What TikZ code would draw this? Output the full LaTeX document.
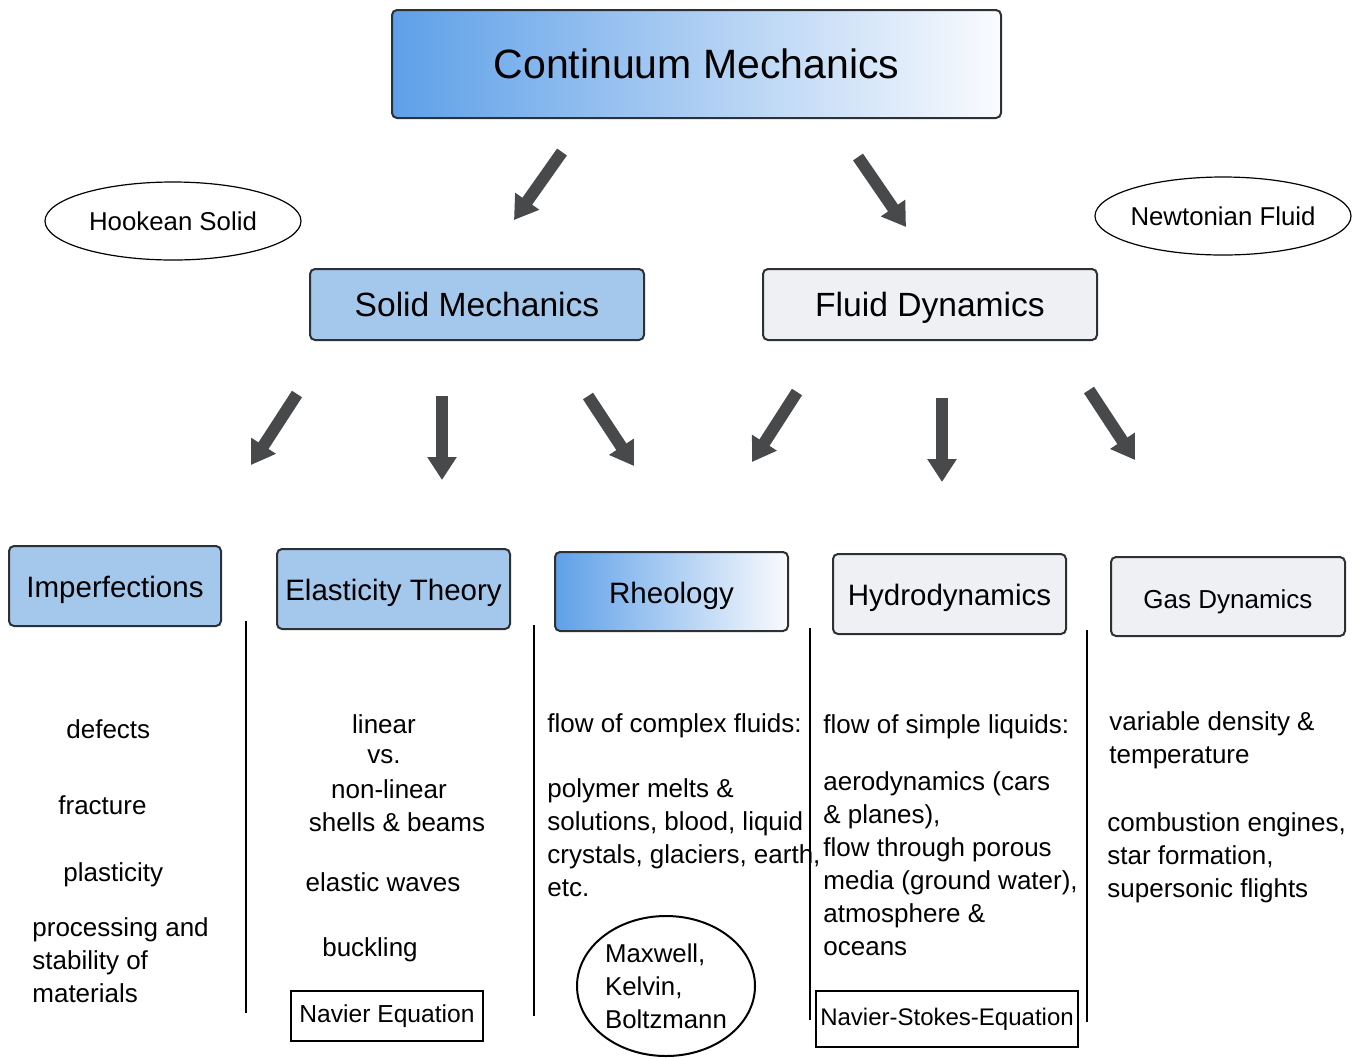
\documentclass[tikz,border=0pt]{standalone}
\usepackage{fontspec}
\setmainfont{Liberation Sans}
\usetikzlibrary{shapes.geometric, arrows.meta}

\definecolor{boxblue}{RGB}{164,199,236}
\definecolor{boxgray}{RGB}{238,240,244}
\definecolor{gradblue}{RGB}{94,160,232}
\definecolor{gradwhite}{RGB}{250,251,254}
\definecolor{arrowgray}{RGB}{72,73,75}
\definecolor{edgegray}{RGB}{45,48,52}

\tikzset{
  topic/.style={draw=edgegray, line width=1pt, rounded corners=2.5pt, inner sep=0pt,
    font=\fontsize{14.75}{17}\selectfont},
  lowtext/.style={text height=11.7pt, text depth=0pt},
  bigarrow/.style={-{Triangle[width=14pt,length=11.5pt]}, line width=6pt, arrowgray},
  bodytext/.style={inner sep=0pt, anchor=west, align=left, font=\fontsize{13}{16.5}\selectfont},
  oval/.style={draw, ellipse, inner sep=0pt, font=\fontsize{12.9}{16.5}\selectfont},
  eqbox/.style={draw, line width=0.6pt, inner sep=0pt, font=\fontsize{12.3}{15}\selectfont},
  divider/.style={line width=0.8pt}
}

\begin{document}
\begin{tikzpicture}[x=0.5pt, y=-0.5pt]
  \useasboundingbox (0,0) rectangle (1361,1057);

  % Top level
  \node[topic, left color=gradblue, right color=gradwhite, minimum width=304.5pt, minimum height=54pt,
    font=\fontsize{20.5}{24}\selectfont] (cm) at (696.5,64) {Continuum Mechanics};

  % Second level
  \node[topic, fill=boxblue, minimum width=167pt, minimum height=35.5pt,
    font=\fontsize{16.8}{20}\selectfont] (solid) at (477,304.5) {Solid Mechanics};
  \node[topic, lowtext, fill=boxgray, minimum width=167pt, minimum height=35.5pt,
    font=\fontsize{16.8}{20}\selectfont] (fluid) at (930,304.5) {Fluid Dynamics};

  % Idealised materials
  \node[oval, line width=0.6pt, minimum width=128pt, minimum height=39pt] (hooke) at (173,221) {Hookean Solid};
  \node[oval, line width=0.6pt, inner xsep=-3pt, minimum width=128pt, minimum height=39pt] (newton) at (1223,216) {Newtonian Fluid};

  % Branches
  \node[topic, lowtext, fill=boxblue, minimum width=106pt, minimum height=40pt] (imperf) at (115,586) {Imperfections};
  \node[topic, lowtext, fill=boxblue, minimum width=116.5pt, minimum height=40pt] (elast) at (393.5,589) {Elasticity Theory};
  \node[topic, lowtext, left color=gradblue, right color=gradwhite, minimum width=116.5pt, minimum height=39.5pt] (rheo) at (671.5,591.5) {Rheology};
  \node[topic, lowtext, fill=boxgray, minimum width=116.5pt, minimum height=40pt] (hydro) at (949.5,594) {Hydrodynamics};
  \node[topic, lowtext, fill=boxgray, minimum width=117pt, minimum height=39.5pt,
    font=\fontsize{13}{16}\selectfont] (gas) at (1228,596.5) {Gas Dynamics};

  % Arrow ends
  \coordinate (a1s) at (562,152);  \coordinate (a1e) at (514,220);
  \coordinate (a2s) at (858,157);  \coordinate (a2e) at (906,227);
  \coordinate (b1s) at (297,394);  \coordinate (b1e) at (251,465);
  \coordinate (b2s) at (442,396);  \coordinate (b2e) at (442,480);
  \coordinate (b3s) at (588,396);  \coordinate (b3e) at (634,466);
  \coordinate (b4s) at (797,392);  \coordinate (b4e) at (752,462);
  \coordinate (b5s) at (942,398);  \coordinate (b5e) at (942,482);
  \coordinate (b6s) at (1089,390); \coordinate (b6e) at (1135,460);

  \draw[bigarrow] (a1s) -- (a1e);
  \draw[bigarrow] (a2s) -- (a2e);
  \foreach \i in {1,...,6}
    \draw[bigarrow] (b\i s) -- (b\i e);

  % Column dividers
  \draw[divider] (246,621) -- (246,1013);
  \draw[divider] (534,625) -- (534,1016);
  \draw[divider] (810,628) -- (810,1020);
  \draw[divider] (1087,630) -- (1087,1022);

  % Imperfections column
  \node[bodytext] (defects) at (66,729) {defects};
  \node[bodytext] (fracture) at (58,805) {fracture};
  \node[bodytext] (plastic) at (63,875) {plasticity};
  \node[bodytext] (process) at (32,960) {processing and\\stability of\\materials};

  % Elasticity column
  \node[bodytext, anchor=center] (lin) at (384,724) {linear};
  \node[bodytext, anchor=center] (vs) at (384,757) {vs.};
  \node[bodytext, anchor=center] (nonlin) at (389,789) {non-linear};
  \node[bodytext, anchor=center] (shells) at (397,822) {shells \& beams};
  \node[bodytext, anchor=center] (waves) at (383,882) {elastic waves};
  \node[bodytext, anchor=center] (buckl) at (370,950) {buckling};
  \node[eqbox, minimum width=96pt, minimum height=25pt] (navier) at (387,1016) {Navier Equation};

  % Rheology column
  \node[bodytext] (complex) at (547,726) {flow of complex fluids:};
  \node[bodytext] (polymer) at (547,837.5) {polymer melts \&\\solutions, blood, liquid\\crystals, glaciers, earth,\\etc.};
  \node[oval, line width=1pt, align=left, minimum width=89pt, minimum height=70pt] (maxwell) at (666,986)
    {Maxwell,\\Kelvin,\\Boltzmann};

  % Hydrodynamics column
  \node[bodytext] (simple) at (823,727) {flow of simple liquids:};
  \node[bodytext] (aero) at (823,864) {aerodynamics (cars\\\& planes),\\flow through porous\\media (ground water),\\atmosphere \&\\oceans};
  \node[eqbox, minimum width=131pt, minimum height=28pt, font=\fontsize{12}{15}\selectfont] (nse) at (947,1019) {Navier-Stokes-Equation};

  % Gas dynamics column
  \node[bodytext] (density) at (1109,740.5) {variable density \&\\temperature};
  \node[bodytext] (combust) at (1107,857.5) {combustion engines,\\star formation,\\supersonic flights};

\end{tikzpicture}
\end{document}
